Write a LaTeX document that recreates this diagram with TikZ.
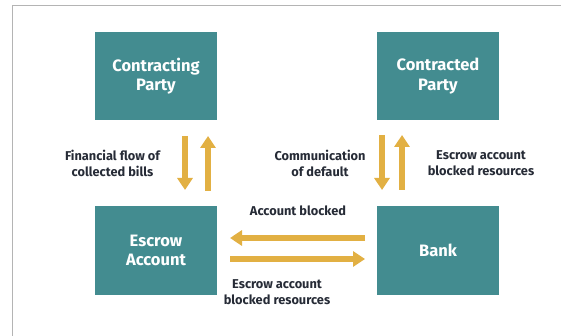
\documentclass[tikz,border=0pt]{standalone}
\usepackage{fontspec}
\setmainfont{Fira Sans}
\usetikzlibrary{arrows.meta}
\definecolor{boxteal}{HTML}{438C90}
\definecolor{flowgold}{HTML}{E2B043}
\definecolor{labelink}{HTML}{262B36}
\definecolor{framegray}{HTML}{B4B4B4}
\begin{document}
\begin{tikzpicture}[x=1pt,y=-1pt,
  party/.style={fill=boxteal, draw=none, minimum width=122pt, minimum height=88pt,
    inner sep=0pt, text=white, align=center,
    font=\fontsize{16.5}{19.5}\selectfont\bfseries},
  flowlabel/.style={text=labelink, align=center, inner sep=0pt,
    font=\fontsize{12.8}{16}\selectfont\bfseries},
  flow/.style={draw=flowgold, line width=5.5pt,
    -{Triangle[width=15pt,length=12pt]}, flowgold}]
\useasboundingbox (0,0) rectangle (561,336);
% frame edges
\draw[framegray, line width=1pt] (12,336) -- (12,6) -- (561,6);

% parties and accounts
\node[party] (cp)   at (156,76)  {Contracting\\Party};
\node[party] (cd)   at (438,76)  {Contracted\\Party};
\node[party] (esc)  at (156,250.5) {Escrow\\Account};
\node[party] (bank) at (438,250.5) {Bank};

% arrow end points
\coordinate (a1s) at (185,136); \coordinate (a1e) at (185,190);
\coordinate (a2s) at (208,191); \coordinate (a2e) at (208,136);
\coordinate (a3s) at (382,135); \coordinate (a3e) at (382,190);
\coordinate (a4s) at (402,190); \coordinate (a4e) at (402,135);
\coordinate (a5s) at (365,238); \coordinate (a5e) at (230,238);
\coordinate (a6s) at (230,259); \coordinate (a6e) at (365,259);

\draw[flow] (a1s) -- (a1e);
\draw[flow] (a2s) -- (a2e);
\draw[flow] (a3s) -- (a3e);
\draw[flow] (a4s) -- (a4e);
\draw[flow] (a5s) -- (a5e);
\draw[flow] (a6s) -- (a6e);

% flow labels
\node[flowlabel] (l1) at (112.5,163) {Financial flow of\\collected bills};
\node[flowlabel] (l2) at (320,163) {Communication\\of default};
\node[flowlabel] (l3) at (481,163) {Escrow account\\blocked resources};
\node[flowlabel] (l4) at (298,211) {Account blocked};
\node[flowlabel] (l5) at (277,292) {Escrow account\\blocked resources};
\end{tikzpicture}
\end{document}
